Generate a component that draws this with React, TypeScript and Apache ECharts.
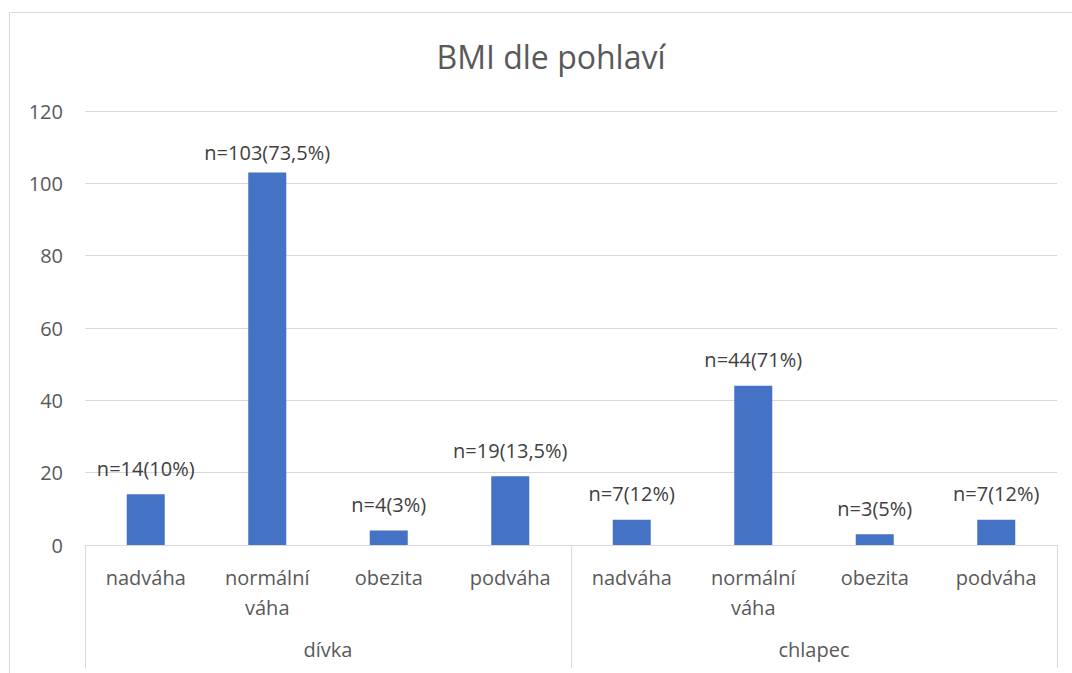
import React, { useEffect, useRef } from "react";
import * as echarts from "echarts";

const categories = ["nadváha", "normální\nváha", "obezita", "podváha", "nadváha", "normální\nváha", "obezita", "podváha"];
const groups = ["dívka", "chlapec"];
const values = [14, 103, 4, 19, 7, 44, 3, 7];
const dataLabels = ["n=14(10%)", "n=103(73,5%)", "n=4(3%)", "n=19(13,5%)", "n=7(12%)", "n=44(71%)", "n=3(5%)", "n=7(12%)"];
const yTicks = { min: 0, max: 120, interval: 20 };
const title = "BMI dle pohlaví";

const FONT = "'Open Sans', 'Noto Sans', sans-serif";

export default function App() {
  const ref = useRef<HTMLDivElement>(null);
  useEffect(() => {
    if (!ref.current) return;
    const chart = echarts.init(ref.current, undefined, { renderer: "svg" });
    const maxVal = Math.max(...values);
    const seriesData = values.map((v) => (v === maxVal ? { value: v, label: { distance: 10 } } : v));
    chart.setOption({
      animation: false,
      backgroundColor: "#ffffff",
      textStyle: { fontFamily: FONT },
      title: {
        text: title,
        left: 546,
        top: 35,
        textAlign: "center",
        textStyle: { fontFamily: FONT, fontSize: 32, fontWeight: "normal", color: "#595959" },
      },
      graphic: [
        {
          type: "rect",
          shape: { x: 9.5, y: 12.5, width: 1100, height: 700 },
          style: { fill: "none", stroke: "#d9d9d9", lineWidth: 1 },
          silent: true,
          z: -1,
        },
      ],
      grid: { left: 85, right: 15, top: 111, bottom: 128 },
      xAxis: [
        {
          type: "category",
          data: categories,
          position: "bottom",
          axisLine: { show: true, lineStyle: { color: "#d9d9d9", width: 1 } },
          axisTick: { show: false },
          axisLabel: { color: "#595959", fontSize: 20, fontFamily: FONT, margin: 17, lineHeight: 30, interval: 0, verticalAlign: "top" },
        },
        {
          type: "category",
          data: groups,
          position: "bottom",
          axisLine: { show: false },
          axisTick: { show: true, length: 123, lineStyle: { color: "#d9d9d9", width: 1 } },
          axisLabel: { color: "#595959", fontSize: 20, fontFamily: FONT, margin: 94, verticalAlign: "top", interval: 0 },
        },
      ],
      yAxis: {
        type: "value",
        min: yTicks.min,
        max: yTicks.max,
        interval: yTicks.interval,
        axisLine: { show: false },
        axisTick: { show: false },
        splitLine: { lineStyle: { color: "#d9d9d9", width: 1 } },
        axisLabel: { color: "#595959", fontSize: 20, fontFamily: FONT, margin: 22 },
      },
      series: [
        {
          type: "bar",
          data: seriesData,
          xAxisIndex: 0,
          barWidth: 38,
          itemStyle: { color: "#4472C4" },
          label: {
            show: true,
            position: "top",
            distance: 16,
            color: "#404040",
            fontSize: 20,
            fontFamily: FONT,
            formatter: (p: any) => dataLabels[p.dataIndex],
          },
        },
      ],
    });
    return () => chart.dispose();
  }, []);
  return <div ref={ref} style={{ position: "fixed", left: 0, top: 0, width: 1072, height: 673 }} />;
}
